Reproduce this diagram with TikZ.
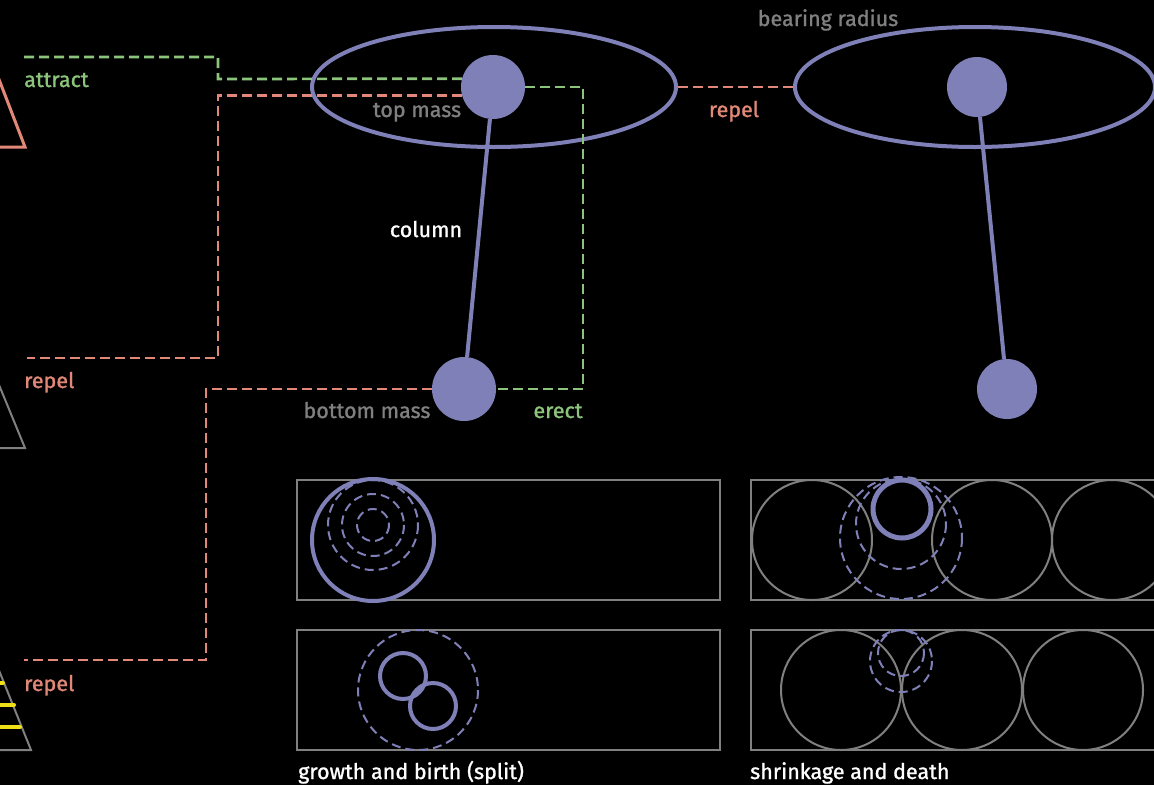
\documentclass[tikz,border=0pt]{standalone}
\usepackage{fontspec}
\setmainfont{Fira Sans}[FakeBold=1.2]
\usetikzlibrary{shapes.geometric}
\definecolor{pur}{RGB}{128,128,184}
\definecolor{grn}{RGB}{140,196,124}
\definecolor{sal}{RGB}{226,136,120}
\definecolor{gry}{RGB}{128,128,128}
\definecolor{yel}{RGB}{240,224,24}
\begin{document}
\begin{tikzpicture}[x=1pt,y=-1pt,
  mass/.style={circle, fill=pur, draw=none, inner sep=0pt},
  bearing/.style={ellipse, draw=pur, line width=4pt, inner sep=0pt, minimum width=364pt, minimum height=120pt},
  colm/.style={draw=pur, line width=4pt},
  attractln/.style={draw=grn, line width=2.7pt, dash pattern=on 10pt off 5pt},
  repelln/.style={draw=sal, line width=2.7pt, dash pattern=on 10pt off 5pt},
  panel/.style={draw=gry, line width=2pt, inner sep=0pt, minimum height=120pt},
  solidc/.style={draw=pur, line width=4pt},
  dashc/.style={draw=pur, line width=2pt, dash pattern=on 9pt off 5pt},
  grayc/.style={draw=gry, line width=2pt},
  lbl/.style={font=\fontsize{21.5}{24}\selectfont, inner sep=0pt, anchor=base},
]
\fill[black] (0,0) rectangle (1154,785);
\useasboundingbox (0,0) rectangle (1154,785);

% left-edge triangles
\draw[sal, line width=3pt, line join=miter] (-10,56) -- (25,147) -- (-20,147);
\draw[gry, line width=2pt] (-10,363) -- (25,448) -- (-20,448);
\draw[gry, line width=2pt] (-10,648) -- (31,750) -- (-20,750);
\draw[yel, line width=4pt, line cap=round] (-5,683) -- (3,683);
\draw[yel, line width=4pt, line cap=round] (-5,705) -- (14,705);
\draw[yel, line width=4pt, line cap=round] (-5,727) -- (20,727);

% bearings
\node[bearing] (le) at (494,87) {};
\node[bearing, minimum width=360pt] (re) at (975,87) {};

% masses
\node[mass, minimum size=64pt] (tm) at (493,87) {};
\node[mass, minimum size=64pt] (bm) at (464,389) {};
\node[mass, minimum size=60pt] (rtm) at (977,87) {};
\node[mass, minimum size=60pt] (rbm) at (1007,389) {};

% columns
\draw[colm] (tm) -- (bm);
\draw[colm] (rtm) -- (rbm);

% connectors
\coordinate (ga) at (24,57);
\coordinate (r1) at (27,358);
\coordinate (r2) at (24,660);
\coordinate (ec) at (583,389);
\draw[attractln] (ga) -- (218,57) -- (218,79) -- (tm.165);
\draw[attractln] (tm.east) -| (ec) -- (bm.east);
\draw[repelln] (tm.195) -| (218,358) -- (r1);
\draw[repelln] (bm.west) -| (206,660) -- (r2);
\draw[repelln] (le.east) -- (re.west);

% labels
\node[lbl, text=grn, anchor=base west] (lattract) at (24,87) {attract};
\node[lbl, text=sal, anchor=base west] (lrepel1) at (24,388) {repel};
\node[lbl, text=sal, anchor=base west] (lrepel2) at (24,691) {repel};
\node[lbl, text=gry] (ltop) at (417,117) {top mass};
\node[lbl, text=white] (lcol) at (426,237) {column};
\node[lbl, text=gry] (lbot) at (367,418) {bottom mass};
\node[lbl, text=grn] (lerect) at (558,418) {erect};
\node[lbl, text=sal] (lrepel3) at (734,117) {repel};
\node[lbl, text=gry] (lbear) at (828,26) {bearing radius};

% panels
\node[panel, minimum width=423pt] (p1) at (508.5,540) {};
\node[panel, minimum width=423pt] (p2) at (508.5,690) {};
\node[panel, minimum width=430pt, anchor=west] (p3) at (750,540) {};
\node[panel, minimum width=430pt, anchor=west] (p4) at (750,690) {};

% panel 1: growth
\draw[solidc] (373,540) circle (61);
\draw[dashc] (373,525) circle (16);
\draw[dashc] (373,525) circle (31);
\draw[dashc] (373,525) circle (45);

% panel 2: birth split
\draw[dashc] (418,690) circle (60);
\draw[solidc] (403,676) circle (23);
\draw[solidc] (433,706) circle (23);

% panel 3: shrinkage
\draw[grayc] (812,540) circle (60);
\draw[grayc] (992,540) circle (60);
\draw[grayc] (1112,540) circle (60);
\draw[dashc] (901,538) circle (61);
\draw[dashc] (901,524) circle (45);
\draw[draw=pur, line width=5pt] (902,509) circle (29);

% panel 4: death
\draw[grayc] (841,690) circle (60);
\draw[grayc] (962,690) circle (60);
\draw[grayc] (1083,690) circle (60);
\draw[dashc] (901,661) circle (31);
\draw[dashc] (901,653) circle (23);

\node[lbl, text=white, anchor=base west] (lgrowth) at (298,779) {growth and birth (split)};
\node[lbl, text=white, anchor=base west] (lshrink) at (750,779) {shrinkage and death};
\end{tikzpicture}
\end{document}
